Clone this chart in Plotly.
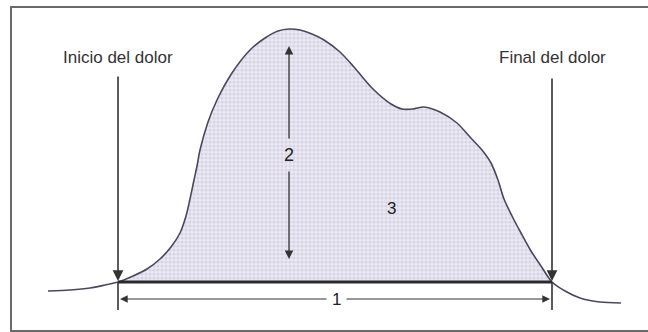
import plotly.graph_objects as go

# Pain intensity curve over time (x: time, y: intensity above the baseline)
curve_x = [48, 70, 90, 105, 118, 133, 147, 160, 171, 180, 186, 190, 194, 197, 200,
           208, 217, 232, 250, 265, 278, 289, 300, 312, 324, 340, 354, 372, 391,
           402, 413, 424, 440, 457, 470, 482, 491, 498, 504, 512, 521, 531, 541,
           552, 565, 580, 600, 621]
curve_y = [-9, -8, -6, -3, 0, 6, 13, 23, 35, 49, 66, 83, 102, 116, 132,
           160, 182, 209, 232, 244, 251, 253, 252, 248, 242, 230, 215, 194, 178,
           173, 173, 175, 170, 159, 145, 132, 119, 102, 83, 66, 49, 31, 16,
           0, -9, -16, -20, -21]

pain_start = 118
pain_end = 552
peak_x = 289

labels = {"start": "Inicio del dolor", "end": "Final del dolor",
          "duration": "1", "intensity": "2", "area": "3"}

FONT = "Liberation Sans Narrow, Arial Narrow, Liberation Sans, sans-serif"
INK = "#333333"

fig = go.Figure()

# shaded area under the curve between start and end of pain
fx = [x for x in curve_x if pain_start <= x <= pain_end]
fy = [y for x, y in zip(curve_x, curve_y) if pain_start <= x <= pain_end]
fig.add_trace(go.Scatter(
    x=fx, y=fy, mode="lines", line=dict(width=0, shape="spline", smoothing=0.8),
    fill="tozeroy", fillcolor="#e4e1ee",
    fillpattern=dict(shape=".", fgcolor="#c4c0d8", bgcolor="#ebe9f2", size=4, solidity=0.5),
    hoverinfo="skip", showlegend=False))

# full curve outline
fig.add_trace(go.Scatter(
    x=curve_x, y=curve_y, mode="lines",
    line=dict(color="#4a4860", width=1.6, shape="spline", smoothing=0.8),
    hoverinfo="skip", showlegend=False))

# baseline
fig.add_shape(type="line", x0=pain_start, x1=pain_end, y0=0, y1=0,
              line=dict(color="#2a2a2a", width=3))

# frame
fig.add_shape(type="rect", x0=11, x1=670, y0=275, y1=-49,
              line=dict(color="#6a6a6a", width=2))

# vertical markers extending below the baseline
for xv in (pain_start, pain_end):
    fig.add_shape(type="line", x0=xv, x1=xv, y0=0, y1=-28,
                  line=dict(color=INK, width=1.6))

def arrow(x, y, ax, ay, width=1.6, size=1.1):
    fig.add_annotation(x=x, y=y, ax=ax, ay=ay, xref="x", yref="y",
                       axref="x", ayref="y", text="", showarrow=True,
                       arrowhead=2, arrowsize=size, arrowwidth=width,
                       arrowcolor=INK)

# start / end arrows
arrow(pain_start, 1, pain_start, 207, size=1.35)
arrow(pain_end, 1, pain_end, 205, size=1.35)

# intensity arrow (2)
arrow(peak_x, 236, peak_x, 142, width=1.3, size=1.3)
arrow(peak_x, 23, peak_x, 112, width=1.3, size=1.3)

# duration arrow (1)
arrow(pain_start + 2, -17, 328, -17, width=1.1, size=1.4)
arrow(pain_end - 2, -17, 345, -17, width=1.1, size=1.4)

def label(x, y, text, size, color="#333333"):
    fig.add_annotation(x=x, y=y, xref="x", yref="y", text=text, showarrow=False,
                       font=dict(family=FONT, size=size, color=color))

label(pain_start, 225, labels["start"], 17)
label(pain_end, 225, labels["end"], 17)
label(peak_x, 127, labels["intensity"], 18, "#222222")
label(391, 74, labels["area"], 17, "#222222")
label(336, -17, labels["duration"], 17, "#222222")

fig.update_layout(
    width=648, height=332, margin=dict(l=0, r=0, t=0, b=0),
    paper_bgcolor="white", plot_bgcolor="white",
    xaxis=dict(range=[0, 648], visible=False, fixedrange=True),
    yaxis=dict(range=[-50, 282], visible=False, fixedrange=True),
)

fig.write_html("out.html")
